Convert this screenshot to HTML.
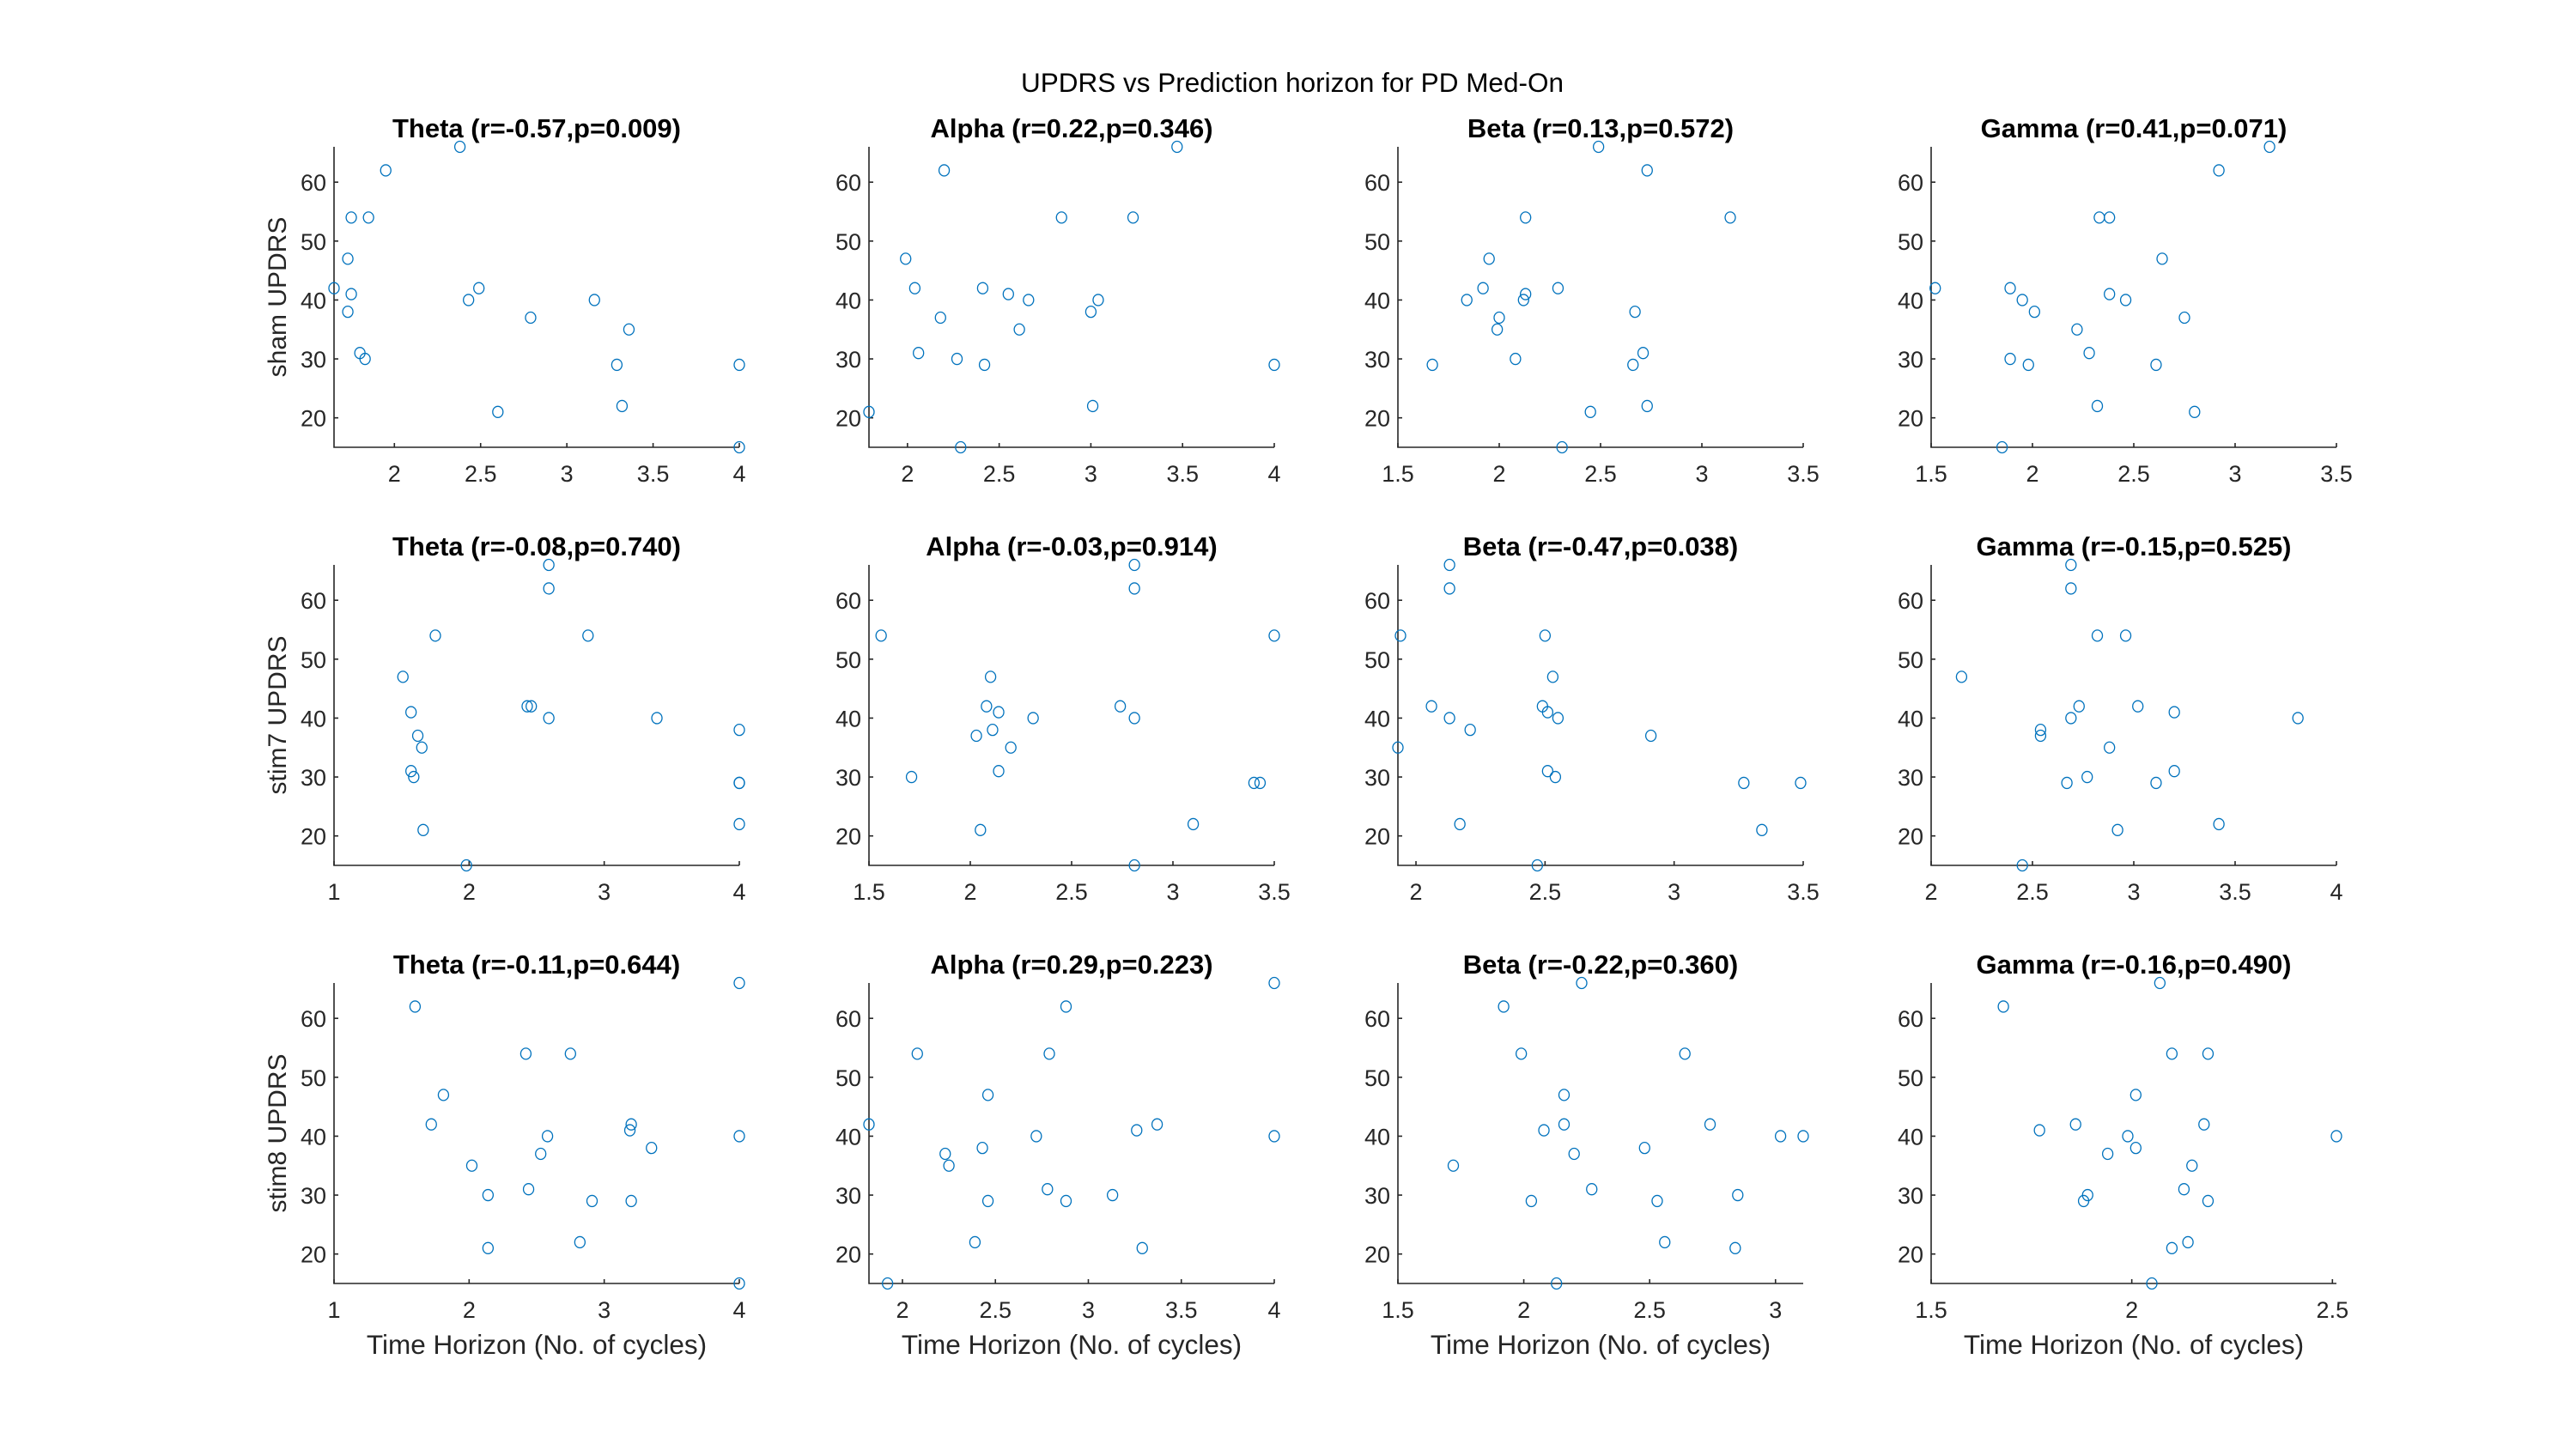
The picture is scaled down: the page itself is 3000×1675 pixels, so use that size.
<!DOCTYPE html>
<html><head><meta charset="utf-8"><style>
html,body{margin:0;padding:0;background:#fff;}
svg{display:block;font-family:"Liberation Sans",Arial,sans-serif;}
</style></head><body>
<svg id="fig" width="3000" height="1675" viewBox="0 0 3000 1675" xmlns="http://www.w3.org/2000/svg">
<rect width="3000" height="1675" fill="#fff"/>
<text x="1505" y="107" font-size="31.5" text-anchor="middle" fill="#000">UPDRS vs Prediction horizon for PD Med-On</text>
</svg>
<script>
const updrs = [66,62,54,54,47,42,42,41,40,40,38,37,35,31,30,29,29,22,21,15];
// x values (time horizon) per panel, in the order of updrs values
const shamTheta = [2.38,1.95,1.75,1.85,1.73,1.65,2.49,1.75,2.43,3.16,1.73,2.79,3.36,1.80,1.83,3.29,4.0,3.32,2.60,4.0];
const shamAlpha = [3.47,2.20,2.84,3.23,1.99,2.04,2.41,2.55,2.66,3.04,3.00,2.18,2.61,2.06,2.27,2.42,4.0,3.01,1.79,2.29];
const shamBeta  = [2.49,2.73,2.13,3.14,1.95,1.92,2.29,2.13,2.12,1.84,2.67,2.00,1.99,2.71,2.08,1.67,2.66,2.73,2.45,2.31];
const shamGamma = [3.17,2.92,2.33,2.38,2.64,1.52,1.89,2.38,1.95,2.46,2.01,2.75,2.22,2.28,1.89,1.98,2.61,2.32,2.80,1.85];
const stim7Theta = [2.59,2.59,1.75,2.88,1.51,2.43,2.46,1.57,2.59,3.39,4.0,1.62,1.65,1.57,1.59,4.0,4.0,4.0,1.66,1.98];
const stim7Alpha = [2.81,2.81,1.56,3.50,2.10,2.08,2.74,2.14,2.31,2.81,2.11,2.03,2.20,2.14,1.71,3.40,3.43,3.10,2.05,2.81];
const stim7Beta  = [2.13,2.13,1.94,2.50,2.53,2.06,2.49,2.51,2.13,2.55,2.21,2.91,1.93,2.51,2.54,3.27,3.49,2.17,3.34,2.47];
const stim7Gamma = [2.69,2.69,2.82,2.96,2.15,2.73,3.02,3.20,2.69,3.81,2.54,2.54,2.88,3.20,2.77,2.67,3.11,3.42,2.92,2.45];
const stim8Theta = [4.0,1.60,2.42,2.75,1.81,1.72,3.20,3.19,2.58,4.0,3.35,2.53,2.02,2.44,2.14,2.91,3.20,2.82,2.14,4.0];
const stim8Alpha = [4.0,2.88,2.08,2.79,2.46,1.82,3.37,3.26,2.72,4.0,2.43,2.23,2.25,2.78,3.13,2.46,2.88,2.39,3.29,1.92];
const stim8Beta  = [2.23,1.92,1.99,2.64,2.16,2.16,2.74,2.08,3.02,3.11,2.48,2.20,1.72,2.27,2.85,2.03,2.53,2.56,2.84,2.13];
const stim8Gamma = [2.07,1.68,2.10,2.19,2.01,1.86,2.18,1.77,1.99,2.51,2.01,1.94,2.15,2.13,1.89,1.88,2.19,2.14,2.10,2.05];
const titles = [
 "Theta (r=-0.57,p=0.009)","Alpha (r=0.22,p=0.346)","Beta (r=0.13,p=0.572)","Gamma (r=0.41,p=0.071)",
 "Theta (r=-0.08,p=0.740)","Alpha (r=-0.03,p=0.914)","Beta (r=-0.47,p=0.038)","Gamma (r=-0.15,p=0.525)",
 "Theta (r=-0.11,p=0.644)","Alpha (r=0.29,p=0.223)","Beta (r=-0.22,p=0.360)","Gamma (r=-0.16,p=0.490)"];
const rowLabels = ["sham UPDRS","stim7 UPDRS","stim8 UPDRS"];
const xLims = [[1.65,4],[1.79,4],[1.5,3.5],[1.5,3.5],[1,4],[1.5,3.5],[1.93,3.5],[2,4],[1,4],[1.82,4],[1.5,3.11],[1.5,2.51]];
const xTicks = [[2,2.5,3,3.5,4],[2,2.5,3,3.5,4],[1.5,2,2.5,3,3.5],[1.5,2,2.5,3,3.5],
 [1,2,3,4],[1.5,2,2.5,3,3.5],[2,2.5,3,3.5],[2,2.5,3,3.5,4],
 [1,2,3,4],[2,2.5,3,3.5,4],[1.5,2,2.5,3],[1.5,2,2.5]];
const yTicks = [20,30,40,50,60];
const yLim = [15,66];
const series = [shamTheta,shamAlpha,shamBeta,shamGamma,stim7Theta,stim7Alpha,stim7Beta,stim7Gamma,stim8Theta,stim8Alpha,stim8Beta,stim8Gamma];

const NS="http://www.w3.org/2000/svg";
const svg=document.getElementById('fig');
const colX=[389,1012,1628,2249], rowY=[171,658,1145], W=472, H=350;
function mk(tag,attrs,parent){const e=document.createElementNS(NS,tag);for(const k in attrs)e.setAttribute(k,attrs[k]);(parent||svg).appendChild(e);return e;}
for(let p=0;p<12;p++){
  const r=Math.floor(p/4), c=p%4, L=colX[c], T=rowY[r];
  const xl=xLims[p];
  const sx=v=>L+(v-xl[0])/(xl[1]-xl[0])*W;
  const sy=v=>T+H-(v-yLim[0])/(yLim[1]-yLim[0])*H;
  const g=mk('g',{});
  
  
  const ax=mk('path',{d:`M${L},${T} L${L},${T+H} L${L+W},${T+H}`,fill:'none',stroke:'#262626','stroke-width':1.6},g);
  
  
  yTicks.forEach(t=>{
    const y=sy(t);
    mk('line',{x1:L,x2:L+5,y1:y,y2:y,stroke:'#262626','stroke-width':1.6},g);
    const tx=mk('text',{x:L-9,y:y+10,'font-size':27,'text-anchor':'end',fill:'#262626'},g);
    tx.textContent=t;
    
    
  });
  xTicks[p].forEach(t=>{
    const x=sx(t);
    mk('line',{x1:x,x2:x,y1:T+H,y2:T+H-5,stroke:'#262626','stroke-width':1.6},g);
    const tx=mk('text',{x:x,y:T+H+40,'font-size':27,'text-anchor':'middle',fill:'#262626'},g);
    tx.textContent=t;
    
    
  });
  const tt=mk('text',{x:L+W/2,y:T-11,'font-size':31,'font-weight':'bold','text-anchor':'middle',fill:'#000'},g);
  tt.textContent=titles[p];
  
  
  if(c===0){
    const yl=mk('text',{x:0,y:0,'font-size':30,'text-anchor':'middle',fill:'#262626',transform:`translate(333,${T+H/2}) rotate(-90)`},g);
    yl.textContent=rowLabels[r];
    
    
  }
  if(r===2){
    const xlb=mk('text',{x:L+W/2,y:1577,'font-size':31.5,'text-anchor':'middle',fill:'#262626'},g);
    xlb.textContent="Time Horizon (No. of cycles)";
    
    
  }
  const xs=series[p];
  xs.forEach((v,i)=>{
    const ci=mk('ellipse',{cx:sx(v),cy:sy(updrs[i]),rx:6,ry:6.5,fill:'none',stroke:'#0072BD','stroke-width':1.3},g);
    
    
  });
}
</script>
</body></html>
